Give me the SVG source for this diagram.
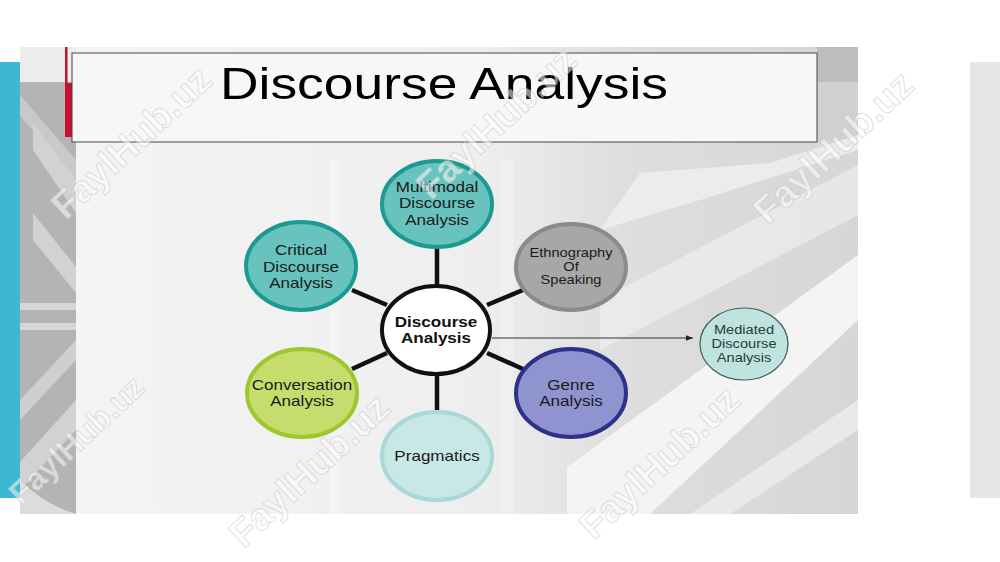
<svg xmlns="http://www.w3.org/2000/svg" width="1000" height="562" viewBox="0 0 1000 562">
<defs>
<linearGradient id="bg" x1="0" y1="0" x2="1" y2="0">
<stop offset="0" stop-color="#f5f5f5"/>
<stop offset="0.55" stop-color="#eeeeee"/>
<stop offset="0.72" stop-color="#dedede"/>
<stop offset="1" stop-color="#d6d6d6"/>
</linearGradient>
<marker id="arr" viewBox="0 0 10 10" refX="10" refY="5" markerWidth="7" markerHeight="7" orient="auto" markerUnits="userSpaceOnUse">
<path d="M0,1 L10,5 L0,9 z" fill="#222"/>
</marker>
</defs>
<style>
.lbl{font-family:"Liberation Sans",Arial,sans-serif;font-size:14px;fill:#1a1a1a;text-anchor:middle}
.sm{font-size:12px}
.bold{font-weight:bold;fill:#111}
.node{stroke-width:4}
.spoke{stroke:#111;stroke-width:4.5;stroke-linecap:butt}
.wm{font-family:"Liberation Sans",Arial,sans-serif;font-weight:bold;font-size:38px;fill:#ffffff;fill-opacity:0.55;stroke:#b8b8b8;stroke-opacity:0.45;stroke-width:1;text-anchor:middle}
</style>
<rect width="1000" height="562" fill="#ffffff"/>
<g id="background">
<rect x="0" y="62" width="20" height="436" fill="#3db8d3"/>
<rect x="970" y="62" width="30" height="436" fill="#e5e5e5"/>
<rect x="20" y="47" width="838" height="467" fill="url(#bg)"/>
<rect x="20" y="47" width="56" height="35" fill="#ececec"/>
<rect x="20" y="82" width="56" height="432" fill="#b4b4b4"/>
<polygon points="20,95 20,115 76,185 76,160" fill="#c9c9c9"/>
<polygon points="33,123 33,150 76,213 76,180" fill="#d2d2d2"/>
<polygon points="33,213 33,240 76,293 76,267" fill="#d2d2d2"/>
<rect x="20" y="303" width="56" height="7" fill="#d6d6d6"/>
<rect x="20" y="323" width="56" height="7" fill="#d6d6d6"/>
<polygon points="76,340 76,360 20,420 20,400" fill="#cfcfcf"/>
<polygon points="76,400 76,430 20,490 20,462" fill="#d2d2d2"/>
<path d="M20,480 Q45,505 76,514 L20,514 z" fill="#dcdcdc"/>
<rect x="817" y="47" width="41" height="35" fill="#bdbdbd"/>
<rect x="817" y="82" width="41" height="60" fill="#d0d0d0"/>
<polygon points="640,173 770,163 858,135 858,150 700,200 600,230" fill="#f0f0f0" opacity="0.8"/>
<polygon points="600,300 858,165 858,215 600,350" fill="#f2f2f2" opacity="0.6"/>
<polygon points="567,514 567,467 858,255 858,320 650,514" fill="#f4f4f4"/>
<polygon points="690,514 858,400 858,430 730,514" fill="#e9e9e9"/>
<rect x="330" y="160" width="10" height="354" fill="#ffffff" opacity="0.25"/>
<rect x="500" y="160" width="14" height="354" fill="#ffffff" opacity="0.2"/>
</g>
<g id="title">
<rect x="65" y="47" width="2.5" height="36" fill="#c8102e"/>
<rect x="65" y="83" width="7" height="54" fill="#c8102e"/>
<rect x="72" y="53" width="745" height="89" fill="#f7f7f7" stroke="#444" stroke-width="1"/>
<text x="444" y="99" font-family="Liberation Sans, Arial, sans-serif" font-size="44" fill="#000" text-anchor="middle" textLength="448" lengthAdjust="spacingAndGlyphs">Discourse Analysis</text>
</g>
<g id="connectors">
<line class="spoke" x1="437" y1="248" x2="437" y2="285"/>
<line class="spoke" x1="352" y1="290" x2="387" y2="305"/>
<line class="spoke" x1="487" y1="305" x2="523" y2="290"/>
<line class="spoke" x1="352" y1="369" x2="387" y2="353"/>
<line class="spoke" x1="487" y1="353" x2="523" y2="369"/>
<line class="spoke" x1="437" y1="373" x2="437" y2="410"/>
<line x1="492" y1="338" x2="693" y2="338" stroke="#333" stroke-width="1" marker-end="url(#arr)"/>
</g>
<g id="node-multimodal">
<ellipse class="node" cx="437" cy="204" rx="55" ry="43" fill="#68c3be" stroke="#1b9a92"/>
<g transform="translate(437 0) scale(1.22 1)"><text class="lbl"><tspan x="0" y="192">Multimodal</tspan><tspan x="0" y="208">Discourse</tspan><tspan x="0" y="225">Analysis</tspan></text></g>
</g>
<g id="node-critical">
<ellipse class="node" cx="301" cy="266" rx="55" ry="44" fill="#68c3be" stroke="#1b9a92"/>
<g transform="translate(301 0) scale(1.22 1)"><text class="lbl"><tspan x="0" y="255">Critical</tspan><tspan x="0" y="272">Discourse</tspan><tspan x="0" y="288">Analysis</tspan></text></g>
</g>
<g id="node-ethnography">
<ellipse class="node" cx="571" cy="267" rx="55" ry="43" fill="#a7a7a7" stroke="#8a8a8a"/>
<g transform="translate(571 0) scale(1.22 1)"><text class="lbl sm"><tspan x="0" y="257">Ethnography</tspan><tspan x="0" y="271">Of</tspan><tspan x="0" y="284">Speaking</tspan></text></g>
</g>
<g id="node-center">
<ellipse cx="436" cy="330" rx="54" ry="44" fill="#ffffff" stroke="#111" stroke-width="4"/>
<g transform="translate(436 0) scale(1.22 1)"><text class="lbl bold"><tspan x="0" y="327">Discourse</tspan><tspan x="0" y="343">Analysis</tspan></text></g>
</g>
<g id="node-conversation">
<ellipse class="node" cx="302" cy="393" rx="55" ry="44" fill="#c6dd6e" stroke="#9cc72d"/>
<g transform="translate(302 0) scale(1.22 1)"><text class="lbl"><tspan x="0" y="390">Conversation</tspan><tspan x="0" y="406">Analysis</tspan></text></g>
</g>
<g id="node-genre">
<ellipse class="node" cx="571" cy="393" rx="55" ry="44" fill="#8f93cf" stroke="#2c3189"/>
<g transform="translate(571 0) scale(1.22 1)"><text class="lbl"><tspan x="0" y="390">Genre</tspan><tspan x="0" y="406">Analysis</tspan></text></g>
</g>
<g id="node-pragmatics">
<ellipse class="node" cx="437" cy="456" rx="55" ry="44" fill="#c8e8e6" stroke="#a9d8d6"/>
<g transform="translate(437 0) scale(1.22 1)"><text class="lbl"><tspan x="0" y="461">Pragmatics</tspan></text></g>
</g>
<g id="node-mediated">
<ellipse cx="744" cy="344" rx="44" ry="36" fill="#bfe3df" stroke="#3d5c5c" stroke-width="1.2"/>
<g transform="translate(744 0) scale(1.22 1)"><text class="lbl sm" style="fill:#2a3a3a"><tspan x="0" y="334">Mediated</tspan><tspan x="0" y="348">Discourse</tspan><tspan x="0" y="362">Analysis</tspan></text></g>
</g>
<g id="watermarks">
<text class="wm" transform="translate(140 152) rotate(-43)">FaylHub.uz</text>
<text class="wm" transform="translate(505 132) rotate(-43)">FaylHub.uz</text>
<text class="wm" transform="translate(842 157) rotate(-43)">FaylHub.uz</text>
<text class="wm" style="font-size:32px" transform="translate(84 448) rotate(-43)">FaylHub.uz</text>
<text class="wm" transform="translate(318 480) rotate(-43)">FaylHub.uz</text>
<text class="wm" transform="translate(668 472) rotate(-43)">FaylHub.uz</text>
</g>
</svg>
